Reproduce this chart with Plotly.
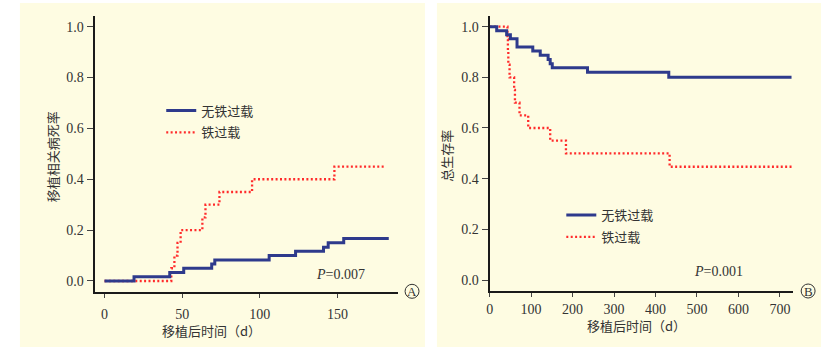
import plotly.graph_objects as go

# ---------------- data ----------------
# Panel A: transplant-related mortality (cumulative incidence)
tA_no = [0, 19, 42, 51, 69, 71, 106, 123, 141, 144, 154, 183]
yA_no = [0, 0.017, 0.033, 0.050, 0.067, 0.083, 0.100, 0.117, 0.133, 0.150, 0.167, 0.167]
tA_iron = [0, 43, 45, 47, 49, 63, 65, 74, 95, 148, 181]
yA_iron = [0, 0.05, 0.10, 0.15, 0.20, 0.25, 0.30, 0.35, 0.40, 0.45, 0.45]

# Panel B: overall survival
tB_no = [0, 17, 41, 50, 66, 104, 122, 141, 146, 151, 236, 432, 728]
yB_no = [1.0, 0.984, 0.968, 0.952, 0.920, 0.904, 0.887, 0.870, 0.854, 0.838, 0.820, 0.800, 0.800]
tB_iron = [0, 43, 44, 45, 48, 59, 61, 72, 93, 146, 184, 434, 731]
yB_iron = [1.0, 0.95, 0.90, 0.85, 0.80, 0.75, 0.70, 0.65, 0.60, 0.55, 0.50, 0.447, 0.447]

name_no = "无铁过载"
name_iron = "铁过载"
yticks = [0, 0.2, 0.4, 0.6, 0.8, 1.0]
xticksA = [0, 50, 100, 150]
xticksB = [0, 100, 200, 300, 400, 500, 600, 700]
titleA_y = "移植相关病死率"
titleB_y = "总生存率"
title_x = "移植后时间（d）"
pA = "<i>P</i>=0.007"
pB = "<i>P</i>=0.001"

# ---------------- style ----------------
W, H = 832, 354
BLUE = "#2E3A8C"
RED = "#FF2B2B"
BG = "#FEFCE2"
SERIF = "Liberation Serif"
CJK = "Noto Sans CJK SC"

def px(x):
    return x / W

def py(y):
    return 1 - y / H

fig = go.Figure()

red_line = dict(color=RED, width=2.3, dash="2px,2.4px")
blue_line = dict(color=BLUE, width=3)

fig.add_trace(go.Scatter(x=tA_iron, y=yA_iron, mode="lines", line_shape="hv", line=red_line,
                         name=name_iron, legend="legend", legendrank=2, legendgroup="a2",
                         xaxis="x", yaxis="y"))
fig.add_trace(go.Scatter(x=tA_no, y=yA_no, mode="lines", line_shape="hv", line=blue_line,
                         name=name_no, legend="legend", legendrank=1, legendgroup="a1",
                         xaxis="x", yaxis="y"))
fig.add_trace(go.Scatter(x=tB_iron, y=yB_iron, mode="lines", line_shape="hv", line=red_line,
                         name=name_iron, legend="legend2", legendrank=2, legendgroup="b2",
                         xaxis="x2", yaxis="y2"))
fig.add_trace(go.Scatter(x=tB_no, y=yB_no, mode="lines", line_shape="hv", line=blue_line,
                         name=name_no, legend="legend2", legendrank=1, legendgroup="b1",
                         xaxis="x2", yaxis="y2"))

tickfont = dict(family=SERIF, size=14, color="#333333")
common_axis = dict(showline=True, linewidth=2, linecolor="#1a1a1a", showgrid=False,
                   zeroline=False, ticks="outside", tickcolor="#444444", tickwidth=1.2,
                   tickfont=tickfont, fixedrange=True)

fig.update_layout(
    width=W, height=H,
    margin=dict(l=0, r=0, t=0, b=0),
    paper_bgcolor="white",
    plot_bgcolor="rgba(0,0,0,0)",
    xaxis=dict(domain=[px(91), px(396)], range=[-6.4, 189], tickvals=xticksA,
               anchor="y", ticklen=4, ticklabelstandoff=4, **common_axis),
    yaxis=dict(domain=[py(292), py(16)], range=[-0.0433, 1.042], tickvals=yticks,
               tickformat=".1f", anchor="x", ticklen=6, **common_axis),
    xaxis2=dict(domain=[px(488), px(793)], range=[0, 732], tickvals=xticksB,
                anchor="y2", ticklen=4, **common_axis),
    yaxis2=dict(domain=[py(291), py(16)], range=[-0.0434, 1.042], tickvals=yticks,
                tickformat=".1f", anchor="x2", ticklen=6, **common_axis),
    legend=dict(x=px(158), y=py(121.5), xanchor="left", yanchor="middle",
                bgcolor="rgba(0,0,0,0)", tracegroupgap=2,
                font=dict(family=CJK, size=13, color="#333333")),
    legend2=dict(x=px(560), y=py(226), xanchor="left", yanchor="middle",
                 bgcolor="rgba(0,0,0,0)", tracegroupgap=2,
                 font=dict(family=CJK, size=13, color="#333333")),
    showlegend=True,
)

# panel backgrounds
fig.add_shape(type="rect", xref="paper", yref="paper", x0=px(16), x1=px(423), y0=py(347), y1=py(3),
              fillcolor=BG, line_width=0, layer="below")
fig.add_shape(type="rect", xref="paper", yref="paper", x0=px(435), x1=px(821), y0=py(347), y1=py(3),
              fillcolor=BG, line_width=0, layer="below")

# circled panel letters
for cx, cy, letter in [(410, 291.3, "A"), (808, 291, "B")]:
    r = 7
    fig.add_shape(type="circle", xref="paper", yref="paper", x0=px(cx - r), x1=px(cx + r),
                  y0=py(cy + r), y1=py(cy - r), line=dict(color="#333333", width=1))
    fig.add_annotation(x=px(cx), y=py(cy + 0.5), xref="paper", yref="paper", text=letter,
                       showarrow=False, xanchor="center", yanchor="middle",
                       font=dict(family=SERIF, size=13, color="#333333"))

def ann(x, y, text, font, angle=0, xanchor="center"):
    fig.add_annotation(x=px(x), y=py(y), xref="paper", yref="paper", text=text, showarrow=False,
                       textangle=angle, xanchor=xanchor, yanchor="middle", font=font)

cjkfont = dict(family=CJK, size=13, color="#333333")
serif_font = dict(family=SERIF, size=14, color="#333333")
ann(48.5, 157, titleA_y, cjkfont, angle=-90)
ann(208, 330, title_x, cjkfont)
ann(445, 156, titleB_y, cjkfont, angle=-90)
ann(636, 325, title_x, cjkfont)
ann(311, 274.7, pA, serif_font, xanchor="left")
ann(691, 271.3, pB, serif_font, xanchor="left")

fig.write_html("out.html")
